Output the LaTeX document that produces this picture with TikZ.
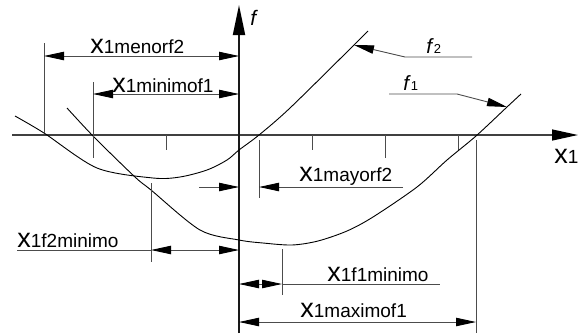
\documentclass[tikz,border=0pt]{standalone}
\usepackage{fontspec}
\setmainfont{Liberation Sans}
\usetikzlibrary{arrows.meta}

\newcommand{\bigx}{{\fontsize{13.5}{14}\selectfont x}}
\newcommand{\fsub}[1]{\textit{f}\raisebox{-0.4pt}{\fontsize{6.5}{7}\selectfont #1}}

\begin{document}
\begin{tikzpicture}[x=0.5pt, y=-0.5pt,
  axis/.style={draw=black!75, line width=0.65pt},
  dim/.style={draw=black!70, line width=0.45pt},
  tip/.style={-{Triangle[length=10pt,width=4.2pt,color=black]}},
  dimtip/.style={{Triangle[length=10pt,width=4.2pt,color=black]}-{Triangle[length=10pt,width=4.2pt,color=black]}},
  curve/.style={line width=0.45pt},
  lbl/.style={anchor=base west, inner sep=0pt, font=\fontsize{9.5}{10}\selectfont},
]
\useasboundingbox (0,0) rectangle (578,333);

% axes
\coordinate (xstart) at (12,135);
\coordinate (xend) at (578,135);
\coordinate (ytop) at (239,5);
\coordinate (ybot) at (239,333);
\draw[axis, -{Triangle[length=13pt,width=5.5pt,color=black]}] (xstart) -- (xend);
\draw[axis, draw=black!90, line width=0.9pt, -{Triangle[length=15pt,width=6pt,color=black]}] (ybot) -- (ytop);
\node[anchor=base west, inner sep=0pt, font=\fontsize{10.5}{11}\selectfont\itshape] (fy) at (250,25) {f};
\node[lbl] (xlab) at (554,163) {\bigx 1};

% ticks
\foreach \x/\b in {166/150, 312/150, 385/158, 458/150}
  \draw[dim] (\x,135) -- (\x,\b);

% curves
\draw[curve] plot[smooth] coordinates {(15,116) (44,133) (97,168) (153,178) (180,177) (207,170)
  (227,160) (239,150) (259,135) (290,108) (354,45) (368,31)};
\draw[curve] plot[smooth] coordinates {(67,108) (94,137) (135,177) (151,190) (200,230) (239,240)
  (263,243) (292,245) (318,241) (347,231) (373,217) (417,187) (447,160) (476,136) (507,107) (521,94)};

% extension lines
\draw[dim] (44,43) -- (44,133);
\draw[dim] (93,82) -- (93,158);
\draw[dim] (259,140) -- (259,198);
\draw[dim] (476,140) -- (476,333);
\draw[dim] (151,183) -- (151,262);
\draw[dim] (282,249) -- (282,295);

% dimension lines
\coordinate (menorL) at (44,56);
\coordinate (menorR) at (239,56);
\draw[dim, dimtip] (menorL) -- (menorR);
\node[lbl] (lmenor) at (90,53) {\bigx 1menorf2};

\coordinate (minL) at (93,94);
\coordinate (minR) at (239,94);
\draw[dim, dimtip] (minL) -- (minR);
\node[lbl] (lmin) at (112,92) {\bigx 1minimof1};

\coordinate (mayA) at (199,187);
\coordinate (mayB) at (239,187);
\coordinate (mayC) at (259,187);
\coordinate (mayD) at (403,187);
\draw[dim, tip] (mayA) -- (mayB);
\draw[dim, tip] (mayD) -- (mayC);
\node[lbl] (lmay) at (299,181) {\bigx 1mayorf2};

\coordinate (ftwoA) at (17,250);
\coordinate (ftwoB) at (151,250);
\coordinate (ftwoC) at (239,250);
\draw[dim] (ftwoA) -- (ftwoB);
\draw[dim, dimtip] (ftwoB) -- (ftwoC);
\node[lbl] (lftwo) at (17,247) {\bigx 1f2minimo};

\coordinate (foneA) at (239,284);
\coordinate (foneB) at (282,284);
\coordinate (foneC) at (440,284);
\draw[dim, dimtip] (foneA) -- (foneB);
\draw[dim] (foneB) -- (foneC);
\node[lbl] (lfone) at (327,281) {\bigx 1f1minimo};

\coordinate (maxL) at (239,322);
\coordinate (maxR) at (476,322);
\draw[dim, dimtip] (maxL) -- (maxR);
\node[lbl] (lmax) at (300,317) {\bigx 1maximof1};

% curve labels
\coordinate (ftwoU) at (472,57);
\coordinate (ftwoK) at (405,57);
\coordinate (ftwoP) at (354,45);
\draw[dim, tip] (ftwoU) -- (ftwoK) -- (ftwoP);
\node[anchor=base west, inner sep=0pt, font=\fontsize{10.3}{11}\selectfont] (fa) at (426,53) {\fsub{2}};

\coordinate (foneU) at (389,94);
\coordinate (foneK) at (457,94);
\coordinate (foneP) at (507,107);
\draw[dim, tip] (foneU) -- (foneK) -- (foneP);
\node[anchor=base west, inner sep=0pt, font=\fontsize{10.3}{11}\selectfont] (fb) at (403,90) {\fsub{1}};
\end{tikzpicture}
\end{document}
